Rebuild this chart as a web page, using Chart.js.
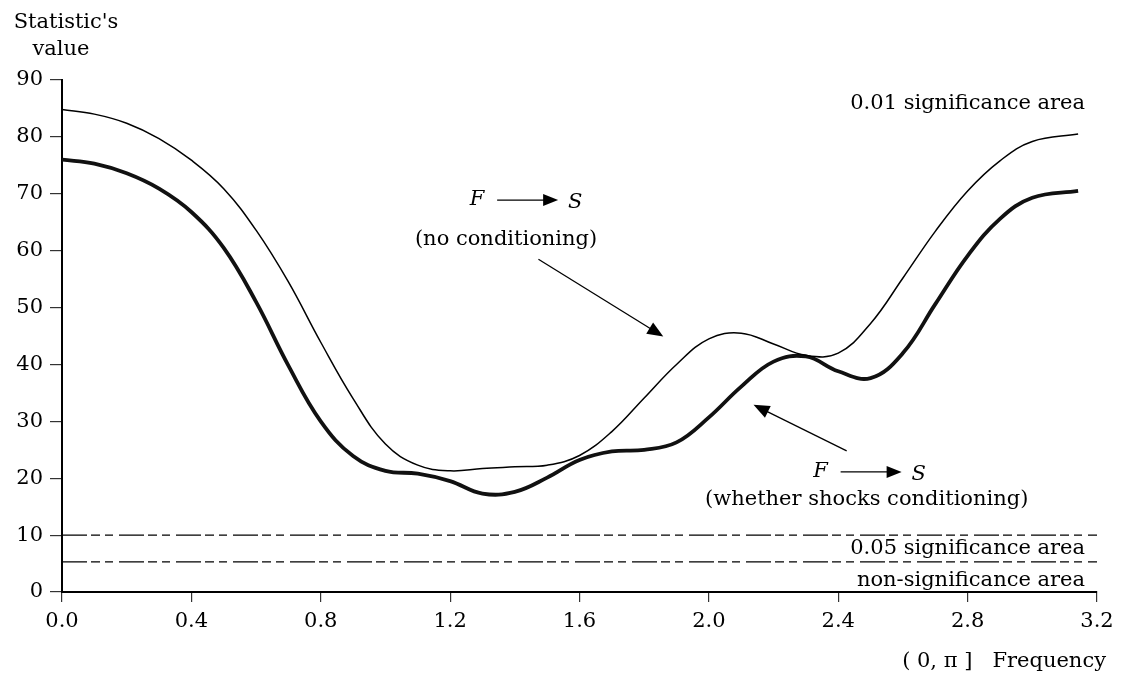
<!DOCTYPE html>
<html>
<head>
<meta charset="utf-8">
<title>Spectral causality statistic by frequency</title>
<script src="https://cdn.jsdelivr.net/npm/chart.js@4/dist/chart.umd.min.js"></script>
<style>
  html, body { margin: 0; padding: 0; background: #ffffff; }
  #wrap { width: 1121px; height: 678px; position: relative; }
</style>
</head>
<body>
<div id="wrap"><canvas id="chart" width="1121" height="678"></canvas></div>
<script>
// Frequency grid on (0, π]
const frequency = [0.0, 0.1, 0.2, 0.3, 0.4, 0.5, 0.6, 0.7, 0.8, 0.9, 1.0, 1.1, 1.2, 1.3, 1.4, 1.5,
                   1.6, 1.7, 1.8, 1.9, 2.0, 2.1, 2.2, 2.3, 2.4, 2.5, 2.6, 2.7, 2.8, 2.9, 3.0, Math.PI];

// F → S, no conditioning
const noConditioning = [84.8, 84.0, 82.4, 79.7, 75.9, 70.9, 63.6, 54.5, 43.9, 34.0, 26.0, 22.3, 21.3, 21.7, 22.0, 22.3,
                        24.0, 28.2, 34.1, 40.0, 44.5, 45.5, 43.6, 41.6, 42.0, 47.2, 55.2, 63.4, 70.5, 75.8, 79.2, 80.5];

// F → S, conditioning on whether shocks
const whetherShocks = [76.0, 75.3, 73.6, 70.9, 66.8, 60.5, 51.0, 39.8, 30.0, 23.9, 21.3, 20.8, 19.5, 17.3, 17.6, 20.1,
                       23.2, 24.7, 25.0, 26.3, 30.7, 36.1, 40.5, 41.4, 38.8, 37.6, 42.0, 50.6, 59.1, 65.6, 69.3, 70.5];

// Critical values separating the significance areas
const criticalValues = [10, 5.3];

// Axis ticks
const xTicks = [0.0, 0.4, 0.8, 1.2, 1.6, 2.0, 2.4, 2.8, 3.2];
const yTicks = [0, 10, 20, 30, 40, 50, 60, 70, 80, 90];

const FONT = '"DejaVu Serif", "Liberation Serif", serif';
const INK = '#000000';

const toPoints = (xs, ys) => xs.map((v, i) => ({ x: v, y: ys[i] }));

// Text labels in data coordinates
const areaLabels = [
  { text: '0.01 significance area', x: 3.163, y: 85.9, align: 'right' },
  { text: '0.05 significance area', x: 3.163, y: 7.6, align: 'right' },
  { text: 'non-significance area', x: 3.163, y: 2.1, align: 'right' },
  { text: '(no conditioning)', x: 1.373, y: 61.9, align: 'center' },
  { text: '(whether shocks conditioning)', x: 2.488, y: 16.2, align: 'center' }
];

// "F → S" captions (centre in data coordinates)
const causalityCaptions = [
  { x: 1.435, y: 68.9 },
  { x: 2.497, y: 21.1 }
];

// Pointer arrows from the captions to the curves
const pointers = [
  { from: { x: 1.473, y: 58.5 }, to: { x: 1.859, y: 44.9 } },
  { from: { x: 2.426, y: 24.8 }, to: { x: 2.138, y: 32.9 } }
];

function arrowHead(ctx, x0, y0, x1, y1, len, half) {
  const a = Math.atan2(y1 - y0, x1 - x0);
  ctx.beginPath();
  ctx.moveTo(x1, y1);
  ctx.lineTo(x1 - len * Math.cos(a) + half * Math.sin(a), y1 - len * Math.sin(a) - half * Math.cos(a));
  ctx.lineTo(x1 - len * Math.cos(a) - half * Math.sin(a), y1 - len * Math.sin(a) + half * Math.cos(a));
  ctx.closePath();
  ctx.fill();
}

const annotationPlugin = {
  id: 'annotations',
  afterDraw(chart) {
    const { ctx, chartArea } = chart;
    const xs = chart.scales.x, ys = chart.scales.y;
    ctx.save();
    ctx.fillStyle = INK;
    ctx.strokeStyle = INK;

    // area and series labels
    ctx.font = '21px ' + FONT;
    ctx.textBaseline = 'middle';
    areaLabels.forEach(l => {
      ctx.textAlign = l.align;
      ctx.fillText(l.text, xs.getPixelForValue(l.x), ys.getPixelForValue(l.y));
    });

    // F → S captions
    causalityCaptions.forEach(c => {
      const cx = xs.getPixelForValue(c.x), cy = ys.getPixelForValue(c.y);
      ctx.font = 'italic 21px ' + FONT;
      ctx.textAlign = 'center';
      ctx.fillText('F', cx - 49, cy);
      ctx.fillText('S', cx + 49, cy + 3);
      ctx.lineWidth = 1.3;
      ctx.beginPath();
      ctx.moveTo(cx - 29, cy);
      ctx.lineTo(cx + 20, cy);
      ctx.stroke();
      arrowHead(ctx, cx - 29, cy, cx + 32, cy, 15, 6);
    });

    // pointer arrows
    pointers.forEach(p => {
      const x0 = xs.getPixelForValue(p.from.x), y0 = ys.getPixelForValue(p.from.y);
      const x1 = xs.getPixelForValue(p.to.x), y1 = ys.getPixelForValue(p.to.y);
      const a = Math.atan2(y1 - y0, x1 - x0);
      ctx.lineWidth = 1.3;
      ctx.beginPath();
      ctx.moveTo(x0, y0);
      ctx.lineTo(x1 - 12 * Math.cos(a), y1 - 12 * Math.sin(a));
      ctx.stroke();
      arrowHead(ctx, x0, y0, x1, y1, 16, 6.5);
    });

    // axis titles
    ctx.font = '21px ' + FONT;
    ctx.textAlign = 'center';
    ctx.fillText("Statistic's", chartArea.left + 4, 23);
    ctx.fillText('value', chartArea.left - 1, 50);
    ctx.textAlign = 'right';
    ctx.fillText('( 0, π ]   Frequency', chartArea.right + 9, 662);
    ctx.restore();
  }
};

new Chart(document.getElementById('chart'), {
  type: 'line',
  data: {
    datasets: [
      {
        label: 'F → S (no conditioning)',
        data: toPoints(frequency, noConditioning),
        borderColor: INK, borderWidth: 1.5,
        pointRadius: 0, tension: 0.4, fill: false
      },
      {
        label: 'F → S (whether shocks conditioning)',
        data: toPoints(frequency, whetherShocks),
        borderColor: '#111111', borderWidth: 3.8,
        pointRadius: 0, tension: 0.4, fill: false
      },
      ...criticalValues.map(v => ({
        label: 'critical value ' + v,
        data: [{ x: 0, y: v }, { x: 3.2, y: v }],
        borderColor: INK, borderWidth: 1.2, borderDash: [25, 4, 9, 5, 8, 6],
        pointRadius: 0, fill: false
      }))
    ]
  },
  options: {
    responsive: false,
    animation: false,
    layout: { padding: { top: 80, right: 24, bottom: 0, left: 0 } },
    plugins: { legend: { display: false }, tooltip: { enabled: false } },
    scales: {
      x: {
        type: 'linear', min: 0, max: 3.2,
        afterFit: s => { s.height = 86; },
        afterBuildTicks: s => { s.ticks = xTicks.map(v => ({ value: v })); },
        border: { display: true, color: INK, width: 2 },
        grid: { drawOnChartArea: false, drawTicks: true, tickLength: 10, color: '#333333', lineWidth: 1.2 },
        ticks: { color: INK, font: { family: FONT, size: 21 }, padding: 7, maxRotation: 0,
                 callback: v => Number(v).toFixed(1) }
      },
      y: {
        type: 'linear', min: 0, max: 90,
        afterFit: s => { s.width = 62; },
        afterBuildTicks: s => { s.ticks = yTicks.map(v => ({ value: v })); },
        border: { display: true, color: INK, width: 2 },
        grid: { drawOnChartArea: false, drawTicks: true, tickLength: 12, color: '#333333', lineWidth: 1.2 },
        ticks: { color: INK, font: { family: FONT, size: 21 }, padding: 7 }
      }
    }
  },
  plugins: [annotationPlugin]
});
</script>
</body>
</html>
